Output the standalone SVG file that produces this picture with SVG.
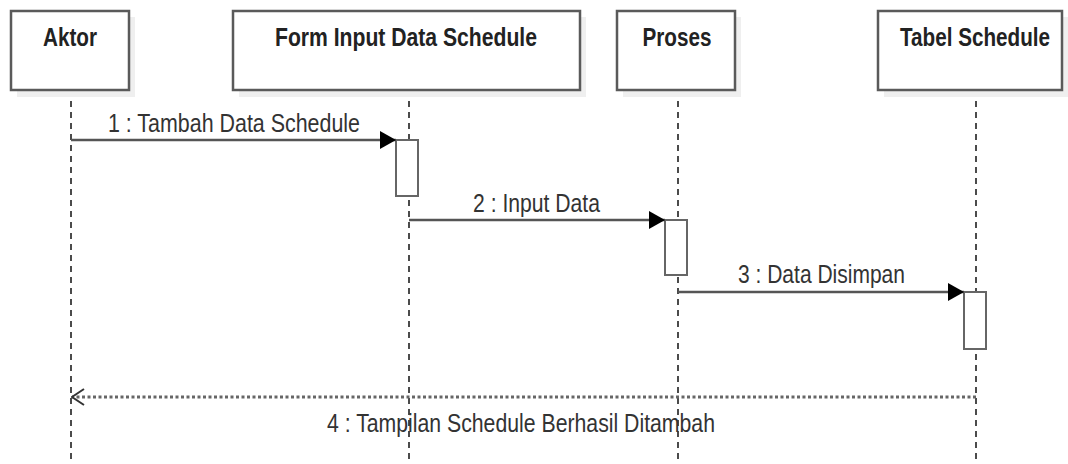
<svg xmlns="http://www.w3.org/2000/svg" width="1068" height="464" viewBox="0 0 1068 464">
<style>
.shadow{fill:#efefef;stroke:none}
.box{fill:#fff;stroke:#5a5a5a;stroke-width:2.5}
.hdr{font-family:"Liberation Sans Narrow","Liberation Sans",Arial,sans-serif;font-weight:bold;font-size:25px;fill:#222;text-anchor:middle}
.lbl{font-family:"Liberation Sans Narrow","Liberation Sans",Arial,sans-serif;font-size:25px;fill:#333}
.life{stroke:#111;stroke-width:1.5;stroke-dasharray:6 5;fill:none}
.msg{stroke:#555;stroke-width:2.5;fill:none}
.ret{stroke:#666;stroke-width:3;stroke-dasharray:3 2.5;fill:none}
.act{fill:#fff;stroke:#666;stroke-width:2}
</style>
<defs>
<marker id="filled" markerWidth="16" markerHeight="18" refX="16" refY="9" orient="auto" markerUnits="userSpaceOnUse">
<path d="M0,0 L16,9 L0,18 Z" fill="#000"/>
</marker>
<marker id="open" markerWidth="14" markerHeight="18" refX="13" refY="9" orient="auto" markerUnits="userSpaceOnUse">
<path d="M1,1 L13,9 L1,17" fill="none" stroke="#333" stroke-width="2"/>
</marker>
</defs>
<rect width="1068" height="464" fill="#fff"/>
<g id="lifelines">
<line class="life" x1="71" y1="90" x2="71" y2="464"/>
<line class="life" x1="409" y1="90" x2="409" y2="464"/>
<line class="life" x1="678" y1="90" x2="678" y2="464"/>
<line class="life" x1="976" y1="90" x2="976" y2="464"/>
</g>
<g id="node-aktor">
<rect class="shadow" x="17" y="17" width="118" height="80"/>
<rect class="box" x="11" y="11" width="118" height="79"/>
<text class="hdr" x="70" y="46" textLength="54" lengthAdjust="spacingAndGlyphs">Aktor</text>
</g>
<g id="node-form">
<rect class="shadow" x="239" y="17" width="347" height="80"/>
<rect class="box" x="233" y="11" width="347" height="79"/>
<text class="hdr" x="406" y="46" textLength="262" lengthAdjust="spacingAndGlyphs">Form Input Data Schedule</text>
</g>
<g id="node-proses">
<rect class="shadow" x="623" y="17" width="118" height="80"/>
<rect class="box" x="617" y="11" width="118" height="79"/>
<text class="hdr" x="677" y="46" textLength="69" lengthAdjust="spacingAndGlyphs">Proses</text>
</g>
<g id="node-tabel">
<rect class="shadow" x="884" y="17" width="184" height="80"/>
<rect class="box" x="878" y="11" width="184" height="79"/>
<text class="hdr" x="975" y="46" textLength="150" lengthAdjust="spacingAndGlyphs">Tabel Schedule</text>
</g>
<g id="activations">
<rect class="act" x="396" y="140" width="22" height="56"/>
<rect class="act" x="665" y="220" width="22" height="55"/>
<rect class="act" x="964" y="292" width="22" height="57"/>
</g>
<g id="connectors">
<line class="msg" x1="71" y1="140" x2="396" y2="140" marker-end="url(#filled)"/>
<text class="lbl" x="108" y="132" textLength="252" lengthAdjust="spacingAndGlyphs">1 : Tambah Data Schedule</text>
<line class="msg" x1="409" y1="220" x2="665" y2="220" marker-end="url(#filled)"/>
<text class="lbl" x="473" y="212" textLength="127" lengthAdjust="spacingAndGlyphs">2 : Input Data</text>
<line class="msg" x1="678" y1="292" x2="964" y2="292" marker-end="url(#filled)"/>
<text class="lbl" x="738" y="283" textLength="167" lengthAdjust="spacingAndGlyphs">3 : Data Disimpan</text>
<line class="ret" x1="976" y1="397" x2="72" y2="397" marker-end="url(#open)"/>
<text class="lbl" x="327" y="432" textLength="388" lengthAdjust="spacingAndGlyphs">4 : Tampilan Schedule Berhasil Ditambah</text>
</g>
</svg>
